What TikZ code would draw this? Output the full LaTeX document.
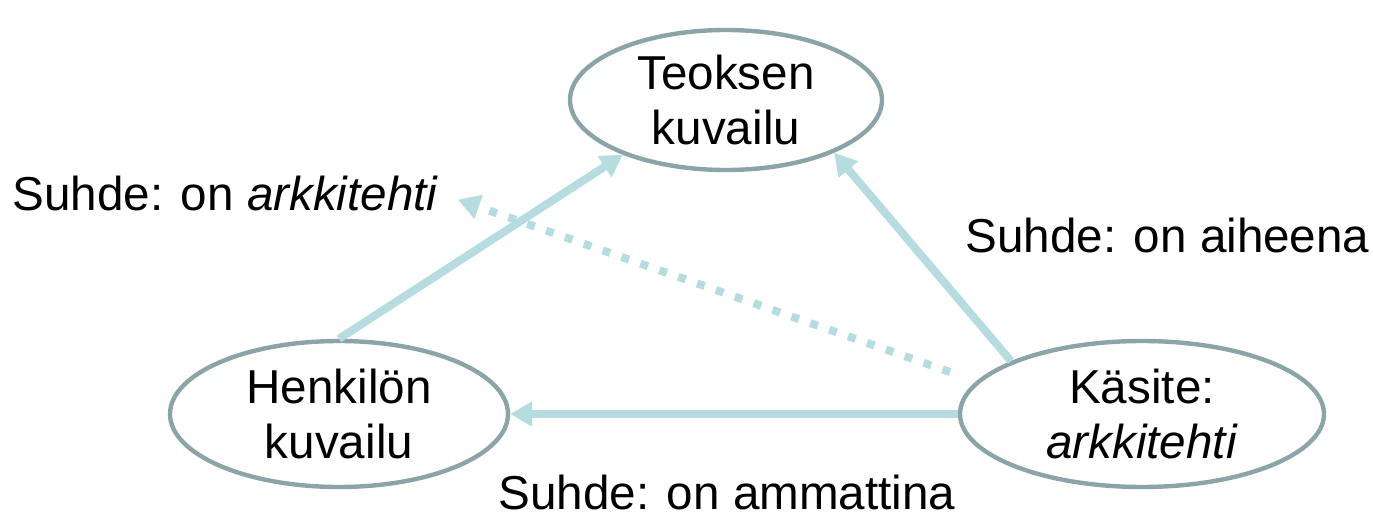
\documentclass[tikz,border=0pt]{standalone}
\usepackage{fontspec}
\setmainfont{Liberation Sans}
\usetikzlibrary{arrows.meta, shapes.geometric}

\definecolor{rimgray}{HTML}{8AA5A8}
\definecolor{linkcyan}{HTML}{B5DDE0}

\begin{document}
\begin{tikzpicture}[x=0.5pt, y=-0.5pt,
    every node/.style={font=\fontsize{23.8}{27.5}\selectfont},
    entity/.style={ellipse, draw=rimgray, line width=2.2pt, inner sep=0pt, align=center},
    link/.style={linkcyan, line width=4pt, -{Triangle[length=11pt,width=12pt]}},
    relabel/.style={anchor=west, inner sep=0pt}]
    \useasboundingbox (0,0) rectangle (1373,519);

    % Descriptions
    \node[entity, minimum width=156pt, minimum height=70pt] (teos) at (726,100) {Teoksen\\kuvailu};
    \node[entity, minimum width=169pt, minimum height=73pt] (henk) at (339,414) {Henkilön\\kuvailu};
    \node[entity, minimum width=182pt, minimum height=73pt] (kasite) at (1142,414) {Käsite:\\\textit{arkkitehti}};

    % Relation labels
    \node[relabel] (arkki) at (12,193) {Suhde: on \textit{arkkitehti}};
    \node[relabel] (aihe) at (965,235) {Suhde: on aiheena};
    \node[relabel] (ammatti) at (498,492) {Suhde: on ammattina};

    % Relations
    \draw[link] (henk.north) -- (teos.208);
    \draw[link] (kasite.158) -- (teos.334);
    \draw[link] (kasite.west) -- (henk.east);
    \coordinate (dotstart) at (950,372);
    \draw[link, dash pattern=on 4pt off 6pt, shorten >=10pt] (dotstart) -- (arkki.east);
\end{tikzpicture}
\end{document}
